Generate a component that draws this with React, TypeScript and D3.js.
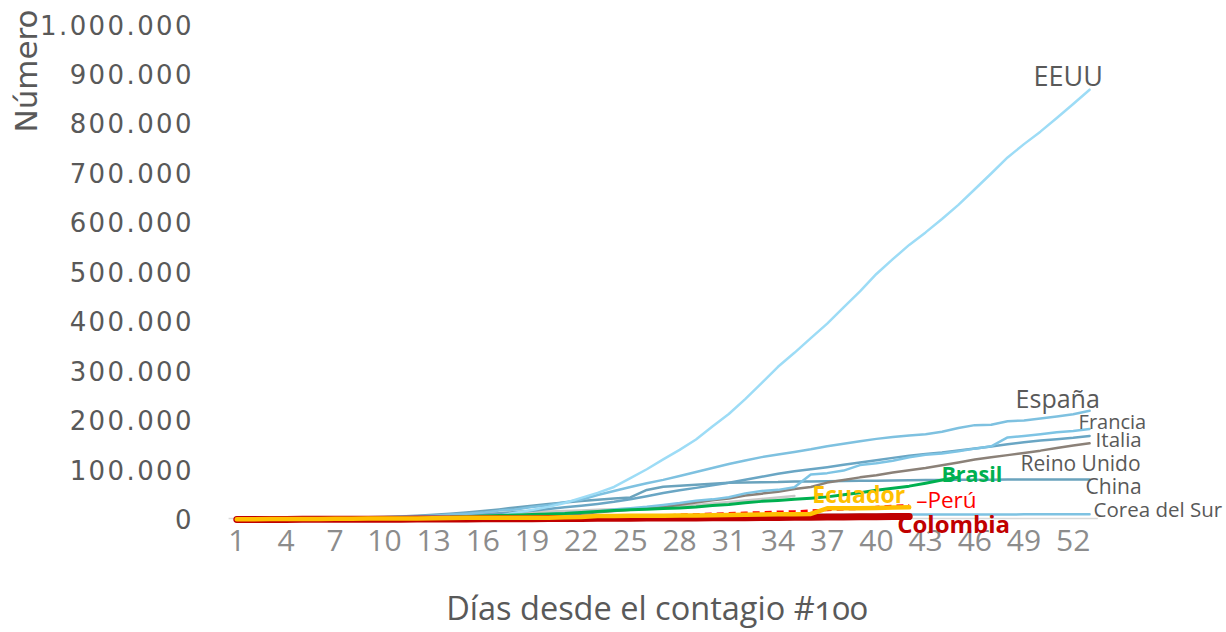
import React from "react";
import * as d3 from "d3";

// ---- Data (confirmed cases, thousands) ----
const days: number[] = d3.range(1, 54);
const xTickLabels = [1, 4, 7, 10, 13, 16, 19, 22, 25, 28, 31, 34, 37, 40, 43, 46, 49, 52];
const yTickValues = [0, 100, 200, 300, 400, 500, 600, 700, 800, 900, 1000];

const eeuu = [0.1, 0.12, 0.15, 0.22, 0.26, 0.4, 0.52, 0.58, 0.96, 1.28, 1.66, 2.18, 2.73, 3.5, 4.63, 6.42, 7.79, 13.68, 19.1, 25.49, 33.28, 43.85, 53.74, 65.78, 83.84, 101.66, 121.47, 140.91, 161.83, 188.17, 213.37, 243.45, 275.59, 308.85, 337.07, 366.67, 396.22, 429.05, 461.44, 496.54, 526.4, 555.31, 580.62, 607.67, 636.35, 667.8, 699.71, 732.2, 759.09, 784.33, 811.87, 840.35, 869.17];
const espana = [0.17, 0.22, 0.26, 0.4, 0.5, 0.67, 1.07, 1.7, 2.28, 2.28, 5.23, 6.39, 7.8, 9.94, 11.75, 13.91, 17.96, 20.41, 25.37, 28.77, 35.14, 39.89, 49.52, 57.79, 65.72, 73.24, 80.11, 87.96, 95.92, 104.12, 112.07, 119.2, 126.17, 131.65, 136.68, 141.94, 148.22, 153.22, 158.27, 163.03, 166.83, 170.1, 172.54, 177.64, 184.95, 190.84, 191.73, 198.67, 200.21, 204.18, 208.39, 213.02, 219.76];
const francia = [0.1, 0.13, 0.19, 0.2, 0.29, 0.38, 0.66, 0.96, 1.14, 1.22, 1.79, 2.29, 2.29, 3.68, 4.5, 4.53, 6.68, 7.72, 9.12, 10.97, 12.76, 14.46, 16.24, 20.12, 22.62, 25.6, 29.55, 33.4, 38.1, 40.71, 45.17, 52.83, 57.75, 59.93, 65.2, 90.85, 93.77, 98.96, 110.07, 113.96, 118.78, 125.93, 130.73, 133.67, 137.88, 143.3, 147.97, 165.96, 168.94, 172.47, 176.66, 179.11, 183.07];
const italia = [0.23, 0.32, 0.45, 0.66, 0.89, 1.13, 1.69, 2.04, 2.5, 3.09, 3.86, 4.64, 5.88, 7.38, 9.17, 10.15, 12.46, 15.11, 17.66, 21.16, 24.75, 27.98, 31.51, 35.71, 41.04, 47.02, 53.58, 59.14, 63.93, 69.18, 74.39, 80.59, 86.5, 92.47, 97.69, 101.74, 105.79, 110.57, 115.24, 119.83, 124.63, 128.95, 132.55, 135.59, 139.42, 143.63, 147.58, 152.27, 156.36, 159.52, 162.49, 165.16, 168.94];
const reinoUnido = [0.12, 0.16, 0.21, 0.27, 0.32, 0.38, 0.46, 0.46, 0.8, 1.14, 1.15, 1.55, 1.96, 2.64, 2.72, 4.01, 5.07, 5.74, 6.73, 8.16, 9.64, 11.81, 14.75, 17.31, 19.78, 22.45, 25.48, 29.87, 34.17, 38.69, 42.48, 48.44, 52.28, 55.95, 61.47, 65.87, 74.61, 79.87, 85.21, 89.57, 94.85, 99.48, 104.15, 109.77, 115.31, 121.17, 125.86, 130.17, 134.64, 139.25, 144.64, 149.57, 154.04];
const china = [0.12, 0.2, 0.29, 0.44, 0.57, 0.83, 1.29, 1.98, 2.74, 4.52, 5.97, 7.71, 9.69, 11.79, 14.38, 17.21, 20.44, 24.32, 28.02, 31.16, 34.55, 37.2, 40.17, 42.64, 44.65, 59.8, 66.4, 68.4, 70.5, 72.4, 74.2, 74.6, 75.1, 75.6, 77.0, 77.0, 77.2, 77.8, 78.2, 78.6, 78.9, 79.4, 79.9, 80.1, 80.3, 80.4, 80.6, 80.7, 80.7, 80.8, 80.8, 80.9, 80.9];
const coreaDelSur = [0.1, 0.2, 0.43, 0.6, 0.83, 0.98, 1.26, 1.77, 2.34, 3.15, 3.74, 4.34, 5.19, 5.62, 6.09, 6.59, 7.04, 7.31, 7.48, 7.51, 7.76, 7.87, 7.98, 8.09, 8.16, 8.24, 8.32, 8.41, 8.57, 8.65, 8.8, 8.9, 8.96, 9.04, 9.14, 9.24, 9.33, 9.48, 9.58, 9.66, 9.79, 9.89, 9.98, 10.06, 10.16, 10.24, 10.28, 10.33, 10.38, 10.42, 10.45, 10.48, 10.51];
const serieGris = [0.25, 0.39, 0.59, 0.98, 1.5, 2.34, 2.92, 3.51, 4.75, 5.82, 6.57, 7.16, 8.04, 9.0, 10.08, 11.36, 12.73, 13.94, 14.99, 16.17, 17.36, 18.41, 19.64, 20.61, 21.64, 23.05, 24.81, 27.02, 29.41, 32.33, 35.41, 38.31, 41.5, 44.61, 47.59];
const brasil = [0.32, 0.37, 0.62, 0.79, 1.02, 1.55, 1.92, 2.25, 2.55, 2.99, 3.42, 3.9, 4.26, 4.58, 5.72, 6.84, 8.04, 9.06, 10.36, 11.13, 12.16, 14.03, 16.17, 18.09, 19.64, 20.73, 22.19, 23.43, 25.26, 28.32, 30.43, 33.68, 36.66, 38.65, 40.74, 43.08, 45.76, 50.04, 54.04, 59.32, 63.1, 67.45, 73.24, 79.69, 85.38];
const peru = [0.12, 0.15, 0.23, 0.23, 0.32, 0.36, 0.4, 0.42, 0.48, 0.58, 0.64, 0.67, 0.85, 0.95, 1.07, 1.32, 1.41, 1.6, 1.75, 2.28, 2.56, 2.95, 4.34, 5.26, 5.9, 6.85, 7.52, 9.78, 10.3, 11.48, 12.49, 13.49, 14.42, 15.63, 16.33, 17.84, 19.25, 20.91, 21.65, 25.33, 27.52, 28.7];
const ecuador = [0.37, 0.51, 0.79, 0.98, 1.08, 1.17, 1.4, 1.6, 1.82, 1.92, 1.96, 2.24, 2.75, 3.16, 3.37, 3.47, 3.65, 3.75, 3.75, 3.75, 4.45, 4.97, 7.16, 7.26, 7.47, 7.53, 7.6, 7.86, 8.23, 8.45, 9.02, 9.47, 10.13, 10.4, 10.85, 11.18, 22.72, 22.72, 22.72, 23.24, 24.26, 24.68];
const colombia = [0.1, 0.13, 0.2, 0.23, 0.31, 0.38, 0.47, 0.49, 0.54, 0.61, 0.7, 0.8, 0.91, 1.07, 1.16, 1.27, 1.41, 1.49, 1.58, 1.78, 2.05, 2.22, 2.47, 2.71, 2.78, 2.85, 2.98, 3.11, 3.23, 3.44, 3.62, 3.79, 3.98, 4.15, 4.36, 4.56, 4.88, 5.14, 5.38, 5.6, 5.95, 6.21];

type Series = {
  label: string | null;
  values: number[];
  color: string;
  width: number;
  dash?: string;
  lab?: { dx: number; dy: number; size: number; weight: number; color: string };
};

const GRAY = "#595959";

const series: Series[] = [
  { label: null, values: serieGris, color: "#c8c8c8", width: 2.5 },
  { label: "China", values: china, color: "#6aa3bd", width: 2.5, lab: { dx: -4, dy: 15, size: 21, weight: 400, color: GRAY } },
  { label: "Corea del Sur", values: coreaDelSur, color: "#7ec2e2", width: 2.5, lab: { dx: 4, dy: 3, size: 20.5, weight: 400, color: GRAY } },
  { label: "Reino Unido", values: reinoUnido, color: "#8b8178", width: 2.5, lab: { dx: -69, dy: 28, size: 21, weight: 400, color: GRAY } },
  { label: "Italia", values: italia, color: "#6aa6c4", width: 2.5, lab: { dx: 6, dy: 11, size: 20.5, weight: 400, color: GRAY } },
  { label: "Francia", values: francia, color: "#7ec4e4", width: 2.5, lab: { dx: -11, dy: 0, size: 20, weight: 400, color: GRAY } },
  { label: "España", values: espana, color: "#7ec1e0", width: 2.5, lab: { dx: -74, dy: -3, size: 25, weight: 400, color: GRAY } },
  { label: "EEUU", values: eeuu, color: "#9ddcf6", width: 2.5, lab: { dx: -56, dy: -4, size: 27, weight: 400, color: GRAY } },
  { label: "Brasil", values: brasil, color: "#00b050", width: 3, lab: { dx: -17, dy: 5, size: 21.5, weight: 700, color: "#00b050" } },
  { label: "–Perú", values: peru, color: "#ff0000", width: 2.5, dash: "7,5", lab: { dx: 7, dy: 3, size: 22.5, weight: 400, color: "#ff0000" } },
  { label: "Colombia", values: colombia, color: "#c00000", width: 7, lab: { dx: -12, dy: 17, size: 24, weight: 700, color: "#c00000" } },
  { label: "Ecuador", values: ecuador, color: "#ffc000", width: 4.5, lab: { dx: -97, dy: -4, size: 23, weight: 700, color: "#ffc000" } },
];

const W = 1226;
const H = 632;

const locale = d3.formatLocale({ decimal: ",", thousands: ".", grouping: [3], currency: ["", ""] });
const fmt = locale.format(",");

export default function App() {
  const x = d3.scalePoint<number>().domain(days).range([228.6, 1097.8]).padding(0.5);
  const y = d3.scaleLinear().domain([0, 1000]).range([519.5, 25]);
  const line = d3
    .line<number>()
    .x((_, i) => x(days[i]) as number)
    .y((v) => y(v));

  const labelFont = "'Open Sans', sans-serif";
  const yFont = "'DejaVu Sans', sans-serif";

  return (
    <svg width={W} height={H} style={{ position: "absolute", left: 0, top: 0, background: "#fff" }}>
      <rect width={W} height={H} fill="#ffffff" />
      {/* x axis line */}
      <line x1={x.range()[0]} x2={x.range()[1]} y1={y(0) - 1} y2={y(0) - 1} stroke="#d9d9d9" strokeWidth={1.5} />

      {/* y tick labels */}
      {yTickValues.map((v) => (
        <text key={v} x={194} y={y(v) + 9.5} textAnchor="end" fontFamily={yFont} fontSize={26} letterSpacing={2.4} fill={GRAY}>
          {fmt(v * 1000)}
        </text>
      ))}

      {/* x tick labels */}
      {xTickLabels.map((d) => (
        <text key={d} x={x(d) as number} y={551} textAnchor="middle" fontFamily={labelFont} fontSize={30} fill="#8c8c8c">
          {d}
        </text>
      ))}

      {/* axis titles */}
      <text x={657} y={620} textAnchor="middle" fontFamily={labelFont} fontSize={32.5} fill={GRAY} style={{ fontVariantNumeric: "oldstyle-nums" }}>
        Días desde el contagio #100
      </text>
      <text transform="translate(37,71) rotate(-90)" textAnchor="middle" fontFamily={yFont} fontSize={31} fill={GRAY}>
        Número
      </text>

      {/* series lines */}
      {series.map((s, i) => (
        <path
          key={i}
          d={line(s.values) || ""}
          fill="none"
          stroke={s.color}
          strokeWidth={s.width}
          strokeDasharray={s.dash}
          strokeLinejoin="round"
          strokeLinecap={s.dash ? "butt" : "round"}
        />
      ))}

      {/* series labels */}
      {series.map((s, i) => {
        if (!s.label || !s.lab) return null;
        const n = s.values.length;
        const lx = (x(days[n - 1]) as number) + s.lab.dx;
        const ly = y(s.values[n - 1]) + s.lab.dy;
        return (
          <text key={"l" + i} x={lx} y={ly} fontFamily={labelFont} fontSize={s.lab.size} fontWeight={s.lab.weight} fill={s.lab.color}>
            {s.label}
          </text>
        );
      })}
    </svg>
  );
}
